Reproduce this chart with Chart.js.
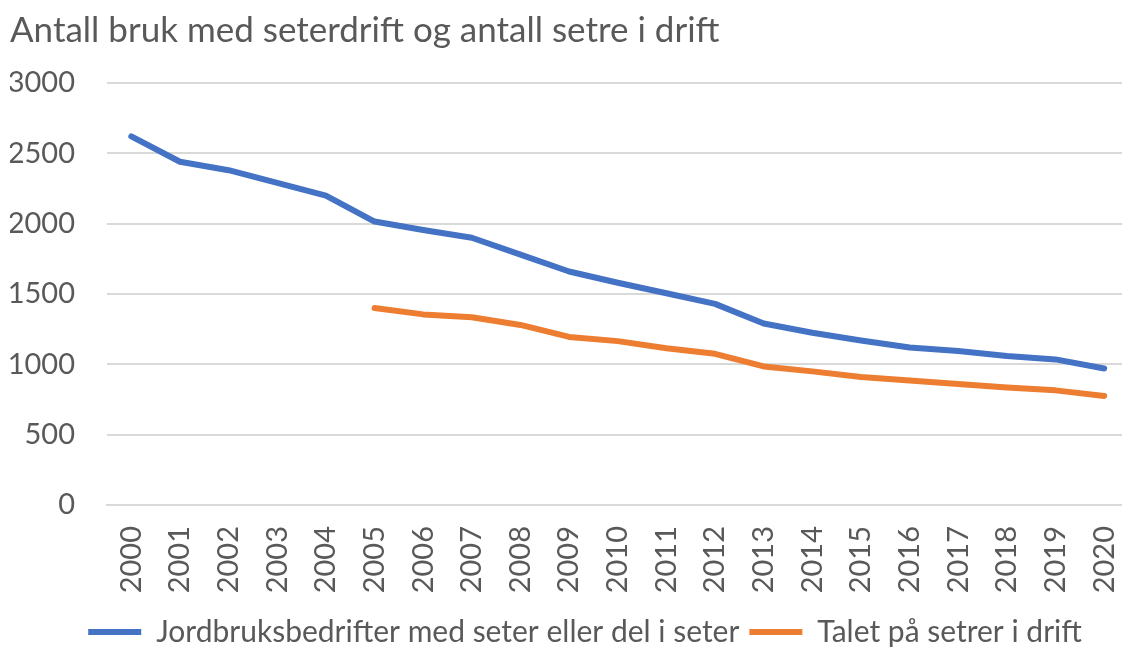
<!DOCTYPE html>
<html>
<head>
<meta charset="utf-8">
<script src="https://cdn.jsdelivr.net/npm/chart.js@4"></script>
<style>
  html, body { margin: 0; padding: 0; background: #fff; overflow: hidden; }
  #wrap { width: 1122px; height: 647px; overflow: hidden; }
</style>
</head>
<body>
<div id="wrap"><canvas id="chart" width="1160" height="657"></canvas></div>
<script>
// Year labels and the two series
const years = ['2000','2001','2002','2003','2004','2005','2006','2007','2008','2009',
               '2010','2011','2012','2013','2014','2015','2016','2017','2018','2019','2020'];
const bedrifter = [2620, 2440, 2380, 2290, 2200, 2015, 1955, 1900, 1780, 1660,
                   1580, 1505, 1430, 1290, 1225, 1170, 1120, 1095, 1060, 1035, 970];
const setrar = [null, null, null, null, null, 1400, 1355, 1335, 1280, 1195,
                1165, 1115, 1075, 985, 950, 910, 885, 860, 835, 815, 775];
const yTicks = [0, 500, 1000, 1500, 2000, 2500, 3000];

const textColor = '#595959';
const font = 'Lato, "Open Sans", sans-serif';

const ctx = document.getElementById('chart').getContext('2d');
new Chart(ctx, {
    type: 'line',
    data: {
        labels: years,
        datasets: [{
            label: 'Jordbruksbedrifter med seter eller del i seter',
            data: bedrifter,
            borderColor: '#4472C4',
            backgroundColor: '#4472C4',
            borderWidth: 6,
            borderCapStyle: 'round',
            borderJoinStyle: 'round',
            pointRadius: 0,
            tension: 0
        }, {
            label: 'Talet på setrer i drift',
            data: setrar,
            borderColor: '#ED7D31',
            backgroundColor: '#ED7D31',
            borderWidth: 6,
            borderCapStyle: 'round',
            borderJoinStyle: 'round',
            pointRadius: 0,
            tension: 0
        }]
    },
    options: {
        responsive: false,
        animation: false,
        layout: { padding: { left: 10, right: 0, top: 0, bottom: 0 } },
        plugins: {
            title: {
                display: true,
                text: 'Antall bruk med seterdrift og antall setre i drift',
                align: 'start',
                color: textColor,
                font: { family: font, size: 35, weight: 'normal' },
                padding: { top: 10, bottom: 31 }
            },
            legend: {
                position: 'bottom',
                labels: {
                    color: textColor,
                    font: { family: font, size: 30 },
                    usePointStyle: true,
                    pointStyle: 'line',
                    pointStyleWidth: 53,
                    boxHeight: 6,
                    padding: 10
                }
            },
            tooltip: { enabled: false }
        },
        scales: {
            x: {
                offset: true,
                afterFit: scale => { scale.height = 102; },
                grid: { display: false, drawTicks: false },
                border: { display: true, color: '#D9D9D9', width: 2 },
                ticks: {
                    color: textColor,
                    font: { family: font, size: 29 },
                    minRotation: 90,
                    maxRotation: 90,
                    autoSkip: false,
                    padding: 21
                }
            },
            y: {
                min: 0,
                max: 3000,
                afterBuildTicks: scale => { scale.ticks = yTicks.map(v => ({ value: v })); },
                afterFit: scale => { scale.width = 97; },
                grid: { color: '#D9D9D9', lineWidth: 2, drawTicks: false },
                border: { display: false },
                ticks: {
                    color: textColor,
                    font: { family: font, size: 29 },
                    padding: 32,
                    callback: value => String(value)
                }
            }
        }
    }
});
</script>
</body>
</html>
